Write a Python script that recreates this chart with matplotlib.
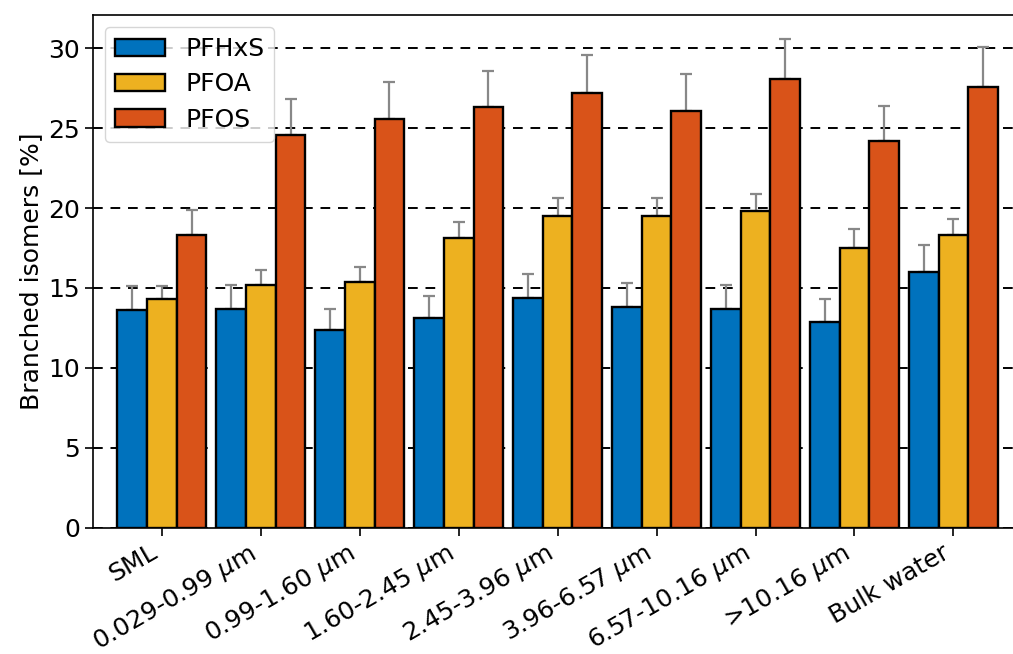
import numpy as np
import matplotlib
matplotlib.use("Agg")
import matplotlib.pyplot as plt

categories = ["SML", r"0.029-0.99 $\mu$m", r"0.99-1.60 $\mu$m", r"1.60-2.45 $\mu$m",
              r"2.45-3.96 $\mu$m", r"3.96-6.57 $\mu$m", r"6.57-10.16 $\mu$m",
              r">10.16 $\mu$m", "Bulk water"]
series_names = ["PFHxS", "PFOA", "PFOS"]
pfhxs = [13.6, 13.7, 12.4, 13.1, 14.4, 13.8, 13.7, 12.9, 16.0]
pfoa = [14.3, 15.2, 15.4, 18.1, 19.5, 19.5, 19.8, 17.5, 18.3]
pfos = [18.3, 24.6, 25.6, 26.3, 27.2, 26.1, 28.1, 24.2, 27.6]
pfhxs_err = [1.5, 1.5, 1.3, 1.4, 1.5, 1.5, 1.5, 1.4, 1.7]
pfoa_err = [0.8, 0.9, 0.9, 1.0, 1.1, 1.1, 1.1, 1.2, 1.0]
pfos_err = [1.6, 2.2, 2.3, 2.3, 2.4, 2.3, 2.5, 2.2, 2.5]
colors = ["#0072BD", "#EDB120", "#D95319"]

FS = 18
plt.rcParams['font.family'] = ['DejaVu Sans']
fig = plt.figure(figsize=(10.13, 6.54), dpi=100)
ax = fig.add_axes([0.0915, 0.1931, 0.918, 0.7844])

x = np.arange(len(categories))
w = 0.3
data = [pfhxs, pfoa, pfos]
errs = [pfhxs_err, pfoa_err, pfos_err]
for i, (vals, e, c, name) in enumerate(zip(data, errs, colors, series_names)):
    pos = x + (i - 1) * w
    ax.bar(pos, vals, width=w, color=c, edgecolor='black', linewidth=1.7,
           label=name, zorder=3)
    ax.errorbar(pos, vals, yerr=[np.zeros(len(vals)), e], fmt='none',
                ecolor='#888888', elinewidth=1.6, capsize=4.5, capthick=1.6, zorder=2)

ax.set_xlim(-0.7, 8.7)
ax.set_ylim(0, 32.1)
ax.set_yticks([0, 5, 10, 15, 20, 25, 30])
ax.yaxis.grid(True, linestyle=(0, (5, 4)), color='black', linewidth=1.4, zorder=0)
ax.set_axisbelow(True)
ax.set_xticks(x)
ax.set_xticklabels(categories, rotation=30, ha='right', rotation_mode='default')
ax.tick_params(axis='both', labelsize=FS, length=5.5, width=1.2)
ax.set_ylabel("Branched isomers [%]", fontsize=FS, labelpad=4)
for s in ax.spines.values():
    s.set_linewidth(1.2)
ax.legend(loc='upper left', fontsize=FS, handlelength=2.0, borderaxespad=0.5,
          labelspacing=0.45)

fig.savefig("out.png", dpi=100)
